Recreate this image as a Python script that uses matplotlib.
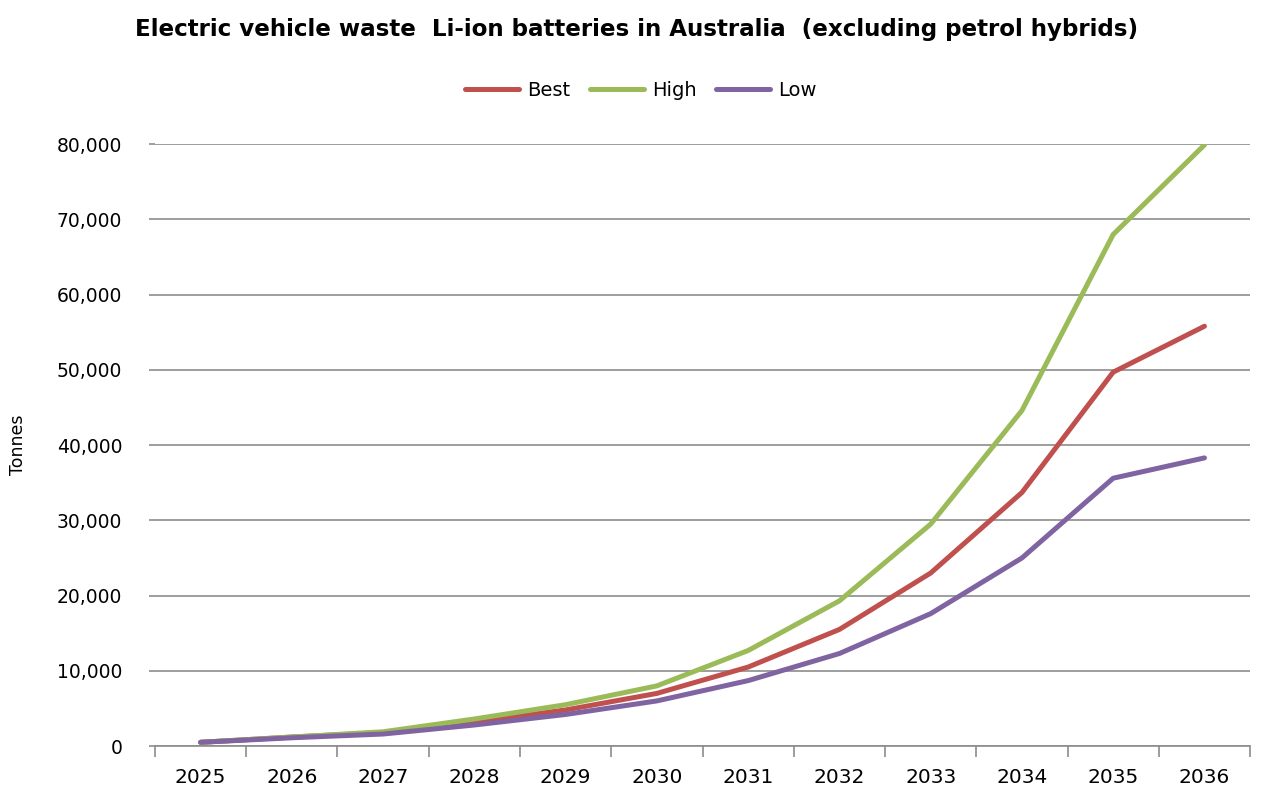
import matplotlib
matplotlib.use("Agg")
import matplotlib.pyplot as plt
from matplotlib.ticker import FuncFormatter, FixedLocator

years = ["2025", "2026", "2027", "2028", "2029", "2030", "2031", "2032", "2033", "2034", "2035", "2036"]
best = [500, 1200, 1800, 3200, 4800, 7000, 10500, 15500, 23000, 33700, 49700, 55800]
high = [500, 1200, 1900, 3600, 5500, 8000, 12700, 19300, 29500, 44600, 68000, 79900]
low = [500, 1100, 1600, 2800, 4200, 6000, 8700, 12300, 17600, 25000, 35600, 38300]

series = [("Best", best, "#C0504D"), ("High", high, "#9BBB59"), ("Low", low, "#8064A2")]

fig = plt.figure(figsize=(12.64, 7.92), dpi=100)
ax = fig.add_axes([0.1226, 0.058, 0.8664, 0.760])

x = list(range(len(years)))
for name, vals, col in series:
    ax.plot(x, vals, color=col, lw=3.6, label=name, solid_capstyle="round", solid_joinstyle="round")

ax.set_xlim(-0.5, len(years) - 0.5)
ax.set_ylim(0, 80000)
ax.set_yticks(range(0, 80001, 10000))
ax.yaxis.set_major_formatter(FuncFormatter(lambda v, p: f"{int(v):,}"))
ax.grid(axis="y", color="#8c8c8c", lw=1.2)
ax.set_axisbelow(True)

ax.set_xticks(x)
ax.set_xticklabels(years)
ax.xaxis.set_minor_locator(FixedLocator([i - 0.5 for i in range(len(years) + 1)]))
ax.tick_params(axis="x", which="major", length=0, pad=16, labelsize=14.5, colors="#000000")
ax.tick_params(axis="x", which="minor", length=8, width=1.2, color="#8c8c8c")
ax.tick_params(axis="y", length=4, width=1.2, color="#8c8c8c", labelsize=13.5, pad=19.5)
for lbl in ax.get_yticklabels():
    lbl.set_color("#000000")

for s in ["top", "right", "left"]:
    ax.spines[s].set_visible(False)
ax.spines["bottom"].set_color("#8c8c8c")
ax.spines["bottom"].set_linewidth(1.2)

ax.set_ylabel("Tonnes", fontsize=12.5)
ax.yaxis.set_label_coords(-0.117, 0.5)

fig.text(0.504, 0.963, "Electric vehicle waste  Li-ion batteries in Australia  (excluding petrol hybrids)",
         ha="center", va="center", fontsize=16.6, fontweight="bold", family="DejaVu Sans")

fig.legend(loc="center", bbox_to_anchor=(0.507, 0.886), ncol=3, frameon=False, fontsize=14,
           handlelength=2.8, columnspacing=1.0, handletextpad=0.4)

fig.savefig("out.png", dpi=100)
